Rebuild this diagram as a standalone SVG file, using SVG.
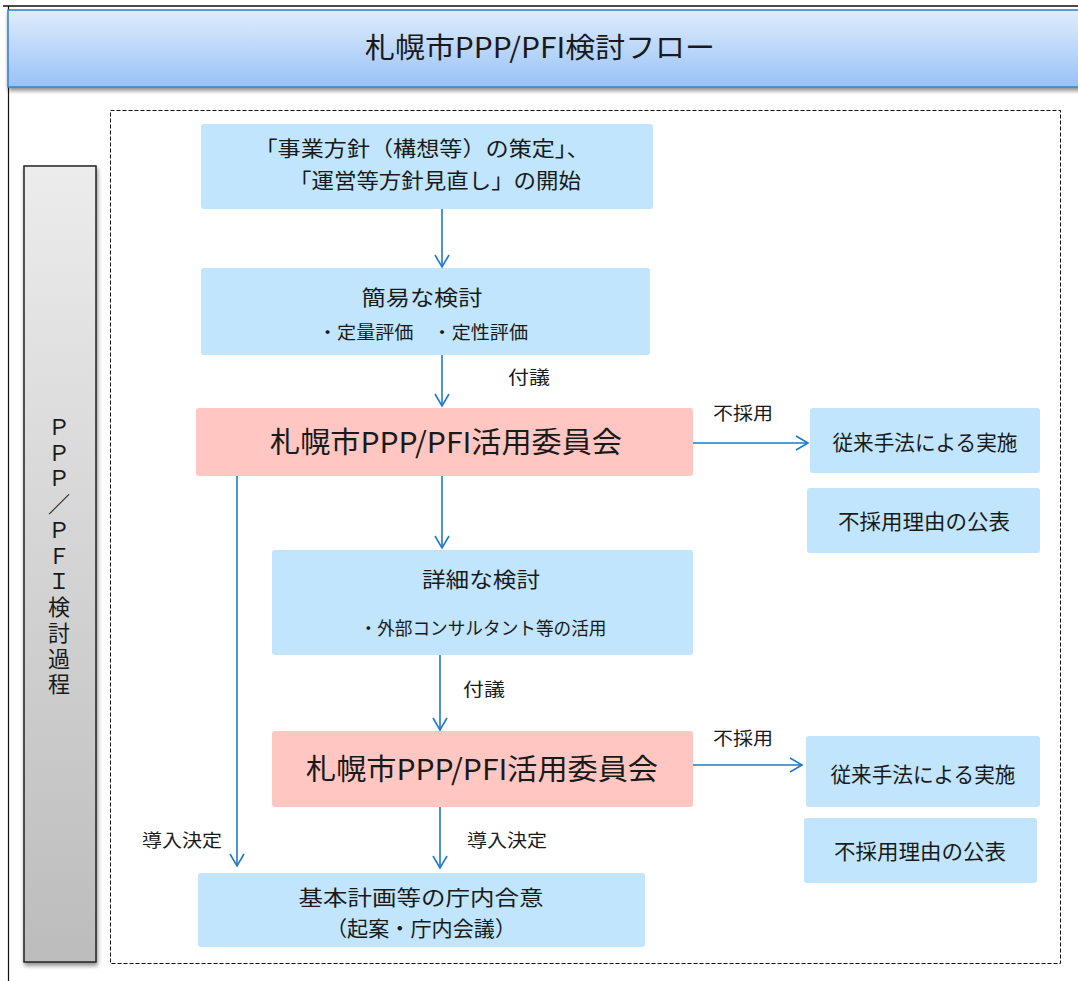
<svg xmlns="http://www.w3.org/2000/svg" width="1078" height="981" viewBox="0 0 1078 981">
<defs>
<linearGradient id="hdr" x1="0" y1="0" x2="0" y2="1"><stop offset="0" stop-color="#e0ecfc"/><stop offset="1" stop-color="#98c2f6"/></linearGradient>
<linearGradient id="side" x1="0" y1="0" x2="0" y2="1"><stop offset="0" stop-color="#ececec"/><stop offset="1" stop-color="#bcbcbc"/></linearGradient>
<filter id="sh" x="-10%" y="-10%" width="130%" height="130%"><feGaussianBlur in="SourceAlpha" stdDeviation="2"/><feOffset dx="1" dy="3"/><feComponentTransfer><feFuncA type="linear" slope="0.45"/></feComponentTransfer><feMerge><feMergeNode/><feMergeNode in="SourceGraphic"/></feMerge></filter>
<marker id="ah" markerWidth="16" markerHeight="16" refX="13" refY="8" orient="auto" markerUnits="userSpaceOnUse"><path d="M1,1 L13,8 L1,15" fill="none" stroke="#1e7ac6" stroke-width="1.6"/></marker>
</defs>
<style>
text{font-family:"Noto Sans CJK JP","Noto Sans",sans-serif;fill:#1a1a1a;text-anchor:middle}
.box{fill:#c0e5fc}
.pink{fill:#ffc6c2}
.t20{font-size:21px}
.t17{font-size:18px}
.t28{font-size:29px}
.lbl{font-size:18px}
.conn line{stroke:#1e7ac6;stroke-width:1.6;marker-end:url(#ah)}
</style>
<rect width="1078" height="981" fill="#fff"/>
<g id="frame">
<line x1="3" y1="6" x2="1078" y2="6" stroke="#111" stroke-width="1.5"/>
<line x1="8.5" y1="6" x2="8.5" y2="981" stroke="#111" stroke-width="1.2"/>
</g>
<g id="header">
<rect x="8" y="10" width="1075" height="77" fill="url(#hdr)" stroke="#2e80d0" stroke-width="1.5" filter="url(#sh)"/>
<text x="540" y="58" style="font-size:28px" textLength="350" lengthAdjust="spacingAndGlyphs">札幌市PPP/PFI検討フロー</text>
</g>
<g id="side-label">
<rect x="24" y="166" width="72" height="796" fill="url(#side)" stroke="#222" stroke-width="1.5" filter="url(#sh)"/>
<text x="59" y="416" style="font-size:22px;writing-mode:vertical-rl;text-orientation:upright;text-anchor:start;letter-spacing:3.7px">ＰＰＰ／ＰＦＩ検討過程</text>
</g>
<rect id="region" x="110.5" y="110.5" width="950" height="853" fill="none" stroke="#111" stroke-width="1" stroke-dasharray="4,2"/>
<g id="n-start">
<rect class="box" x="201" y="124" width="452" height="85" rx="3"/>
<text class="t20" x="422" y="156" textLength="335" lengthAdjust="spacingAndGlyphs">「事業方針（構想等）の策定」、</text>
<text class="t20" x="435" y="188" textLength="292" lengthAdjust="spacingAndGlyphs">「運営等方針見直し」の開始</text>
</g>
<g id="n-simple">
<rect class="box" x="201" y="268" width="449" height="87" rx="3"/>
<text class="t20" x="422" y="305" textLength="121" lengthAdjust="spacingAndGlyphs">簡易な検討</text>
<text class="t17" x="423" y="339" textLength="210" lengthAdjust="spacingAndGlyphs">・定量評価　・定性評価</text>
</g>
<g id="n-comm1">
<rect class="pink" x="196" y="408" width="497" height="68" rx="3"/>
<text class="t28" x="446" y="453" textLength="352" lengthAdjust="spacingAndGlyphs">札幌市PPP/PFI活用委員会</text>
</g>
<g id="n-conv1">
<rect class="box" x="810" y="408" width="230" height="65" rx="3"/>
<text class="t20" x="925" y="450" textLength="185" lengthAdjust="spacingAndGlyphs">従来手法による実施</text>
</g>
<g id="n-pub1">
<rect class="box" x="807" y="488" width="233" height="65" rx="3"/>
<text class="t20" x="924" y="529" textLength="172" lengthAdjust="spacingAndGlyphs">不採用理由の公表</text>
</g>
<g id="n-detail">
<rect class="box" x="272" y="550" width="421" height="105" rx="3"/>
<text class="t20" x="481" y="587" textLength="118" lengthAdjust="spacingAndGlyphs">詳細な検討</text>
<text class="t17" x="483" y="635" textLength="247" lengthAdjust="spacingAndGlyphs">・外部コンサルタント等の活用</text>
</g>
<g id="n-comm2">
<rect class="pink" x="272" y="731" width="421" height="76" rx="3"/>
<text class="t28" x="482" y="780" textLength="352" lengthAdjust="spacingAndGlyphs">札幌市PPP/PFI活用委員会</text>
</g>
<g id="n-conv2">
<rect class="box" x="806" y="736" width="234" height="71" rx="3"/>
<text class="t20" x="923" y="782" textLength="185" lengthAdjust="spacingAndGlyphs">従来手法による実施</text>
</g>
<g id="n-pub2">
<rect class="box" x="804" y="818" width="233" height="65" rx="3"/>
<text class="t20" x="920" y="859" textLength="172" lengthAdjust="spacingAndGlyphs">不採用理由の公表</text>
</g>
<g id="n-agree">
<rect class="box" x="198" y="873" width="447" height="74" rx="3"/>
<text class="t20" x="421" y="905" textLength="245" lengthAdjust="spacingAndGlyphs">基本計画等の庁内合意</text>
<text class="t20" x="421" y="936" textLength="190" lengthAdjust="spacingAndGlyphs">（起案・庁内会議）</text>
</g>
<g id="connectors" class="conn">
<line x1="442" y1="209" x2="442" y2="267"/>
<line x1="442" y1="355" x2="442" y2="406"/>
<line x1="693" y1="443" x2="808" y2="443"/>
<line x1="442" y1="476" x2="442" y2="548"/>
<line x1="237" y1="476" x2="237" y2="866"/>
<line x1="440" y1="655" x2="440" y2="730"/>
<line x1="693" y1="765" x2="802" y2="765"/>
<line x1="440" y1="807" x2="440" y2="868"/>
</g>
<g id="labels" class="lbl">
<text x="529" y="384" textLength="42" lengthAdjust="spacingAndGlyphs">付議</text>
<text x="743" y="420" textLength="60" lengthAdjust="spacingAndGlyphs">不採用</text>
<text x="484" y="696" textLength="42" lengthAdjust="spacingAndGlyphs">付議</text>
<text x="743" y="745" textLength="60" lengthAdjust="spacingAndGlyphs">不採用</text>
<text x="182" y="847" textLength="80" lengthAdjust="spacingAndGlyphs">導入決定</text>
<text x="507" y="847" textLength="80" lengthAdjust="spacingAndGlyphs">導入決定</text>
</g>
</svg>
